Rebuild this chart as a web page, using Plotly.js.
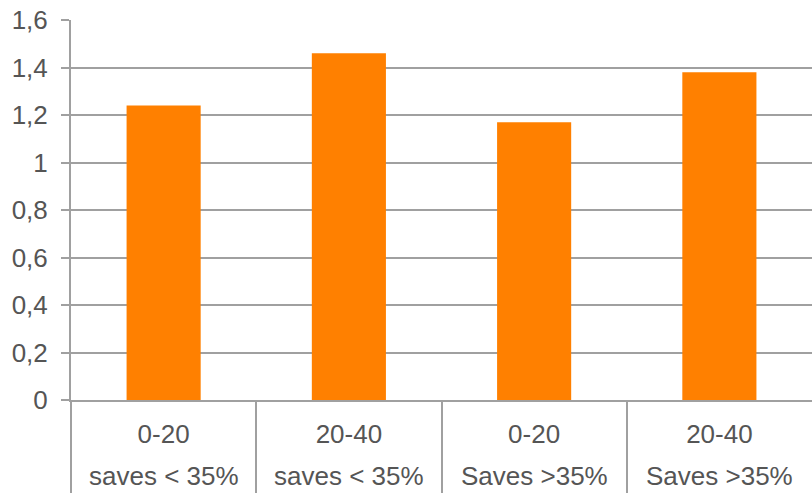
<!DOCTYPE html>
<html>
<head>
<meta charset="utf-8">
<script src="https://cdn.plot.ly/plotly-3.0.1.min.js"></script>
<style>
  html, body { margin: 0; padding: 0; background: #fff; }
  #chart { width: 812px; height: 493px; }
</style>
</head>
<body>
<div id="chart"></div>
<script>
// Age bands (first row of the category axis)
const bands = ["0-20", "20-40", "0-20", "20-40"];
// Saving groups (second row of the category axis)
const groups = ["saves < 35%", "saves < 35%", "Saves >35%", "Saves >35%"];
// Bar values
const values = [1.24, 1.46, 1.17, 1.38];

const positions = bands.map((_, i) => i);
const boundaries = bands.map((_, i) => i - 0.5);

const textColor = "#555555";
const lineColor = "#a0a0a0";
const font = { family: "Liberation Sans, Arial, sans-serif", size: 26, color: textColor };

const trace = {
  type: "bar",
  x: positions,
  y: values,
  marker: { color: "#ff8000", line: { width: 0 } },
  width: 0.4,
  hoverinfo: "skip"
};

// Second row of category labels, under the band labels
const annotations = groups.map((g, i) => ({
  x: i, xref: "x",
  y: 0, yref: "paper",
  yshift: -76,
  yanchor: "middle",
  borderpad: 0,
  text: g,
  showarrow: false,
  font: font
}));

const layout = {
  width: 812,
  height: 493,
  margin: { l: 71, r: 0, t: 20, b: 93 },
  paper_bgcolor: "#fff",
  plot_bgcolor: "#fff",
  showlegend: false,
  separators: ",.",
  font: font,
  xaxis: {
    range: [-0.5, bands.length - 0.5],
    tickmode: "array",
    tickvals: positions,
    ticktext: bands,
    ticks: "",
    showgrid: false,
    zeroline: false,
    showline: true,
    linecolor: lineColor,
    linewidth: 2,
    tickfont: font,
    ticklabelstandoff: 10,
    minor: {
      tickmode: "array",
      tickvals: boundaries,
      ticks: "outside",
      ticklen: 93,
      tickwidth: 2,
      tickcolor: lineColor,
      showgrid: false
    },
    fixedrange: true
  },
  yaxis: {
    range: [0, 1.6],
    tickmode: "linear",
    tick0: 0,
    dtick: 0.2,
    ticks: "outside",
    ticklen: 8,
    tickwidth: 2,
    tickcolor: lineColor,
    showgrid: true,
    gridcolor: lineColor,
    gridwidth: 2,
    zeroline: false,
    showline: true,
    linecolor: lineColor,
    linewidth: 2,
    tickfont: font,
    ticklabelstandoff: 8,
    fixedrange: true
  },
  annotations: annotations
};

Plotly.newPlot("chart", [trace], layout, { staticPlot: true, displayModeBar: false });
</script>
</body>
</html>
